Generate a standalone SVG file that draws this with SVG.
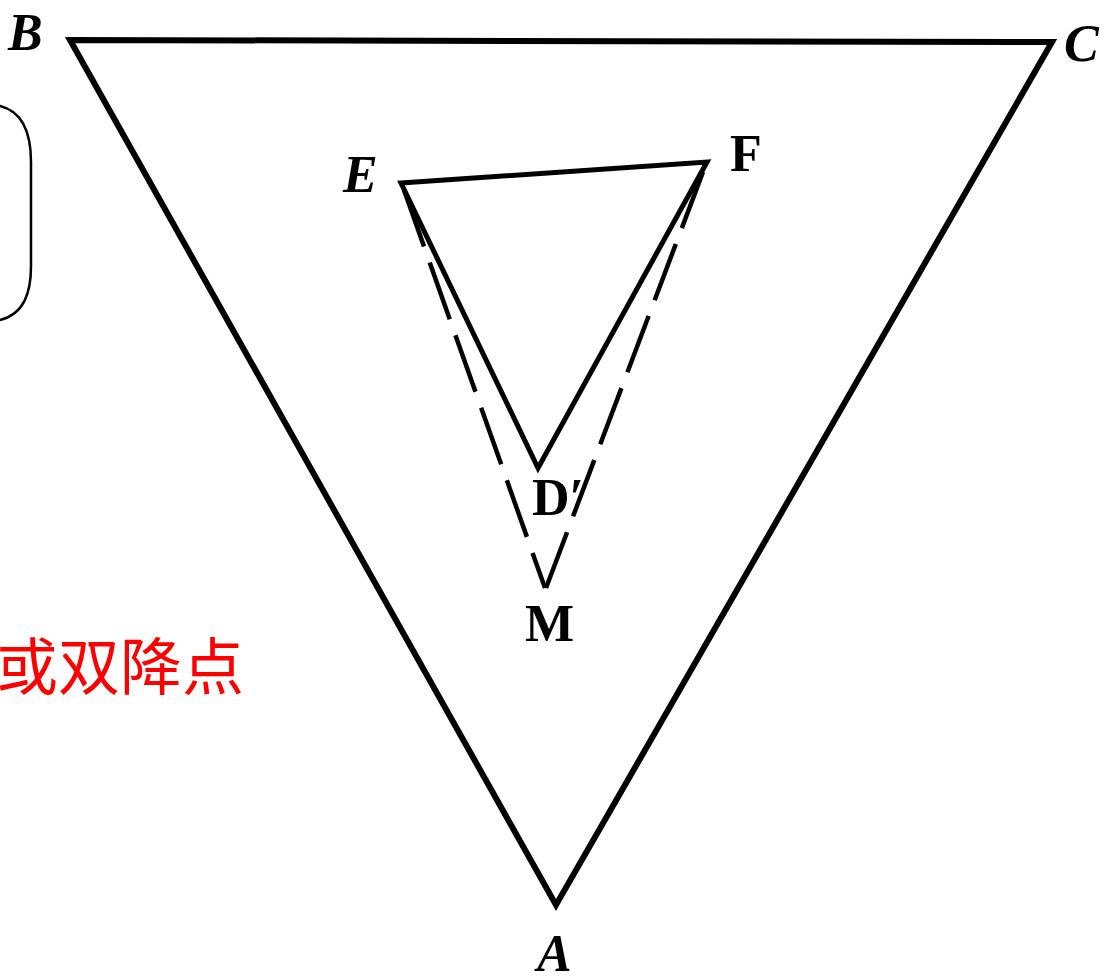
<svg xmlns="http://www.w3.org/2000/svg" width="1120" height="980" viewBox="0 0 1120 980">
<style>
.lbl{font-family:"Liberation Serif","DejaVu Serif",serif;font-weight:bold;font-size:52px;fill:#000}
.it{font-style:italic}
.ln{fill:none;stroke:#000;stroke-linejoin:miter;stroke-linecap:round}
.dash{fill:none;stroke:#000;stroke-width:4.5;stroke-dasharray:60 17}
.red{font-family:"Noto Sans CJK SC","Noto Sans CJK TC",sans-serif;font-size:62px;fill:#ff0000}
</style>
<rect width="1120" height="980" fill="#fff"/>
<g id="bracket">
<path class="ln" stroke-width="2.5" d="M0,106 C24,112 31,135 31,162 L31,266 C31,293 24,314 0,320"/>
</g>
<g id="outer-triangle">
<path class="ln" stroke-width="6" d="M70,40 L1052,42 L556,905 Z"/>
</g>
<g id="inner-triangle">
<path class="ln" stroke-width="5" d="M401,183 L707,162 L538,468 Z"/>
</g>
<g id="connectors">
<path class="dash" d="M404,190 L545,588"/>
<path class="dash" d="M703,172 L546,588"/>
</g>
<g id="labels">
<text class="lbl it" x="8" y="50">B</text>
<text class="lbl it" x="1064" y="61">C</text>
<text class="lbl it" x="343" y="192">E</text>
<text class="lbl" x="730" y="171">F</text>
<text class="lbl" x="532" y="515">D′</text>
<text class="lbl" x="525" y="641">M</text>
<text class="lbl it" x="537" y="971">A</text>
</g>
<g id="note">
<text class="red" x="-4" y="690">或双降点</text>
</g>
</svg>
